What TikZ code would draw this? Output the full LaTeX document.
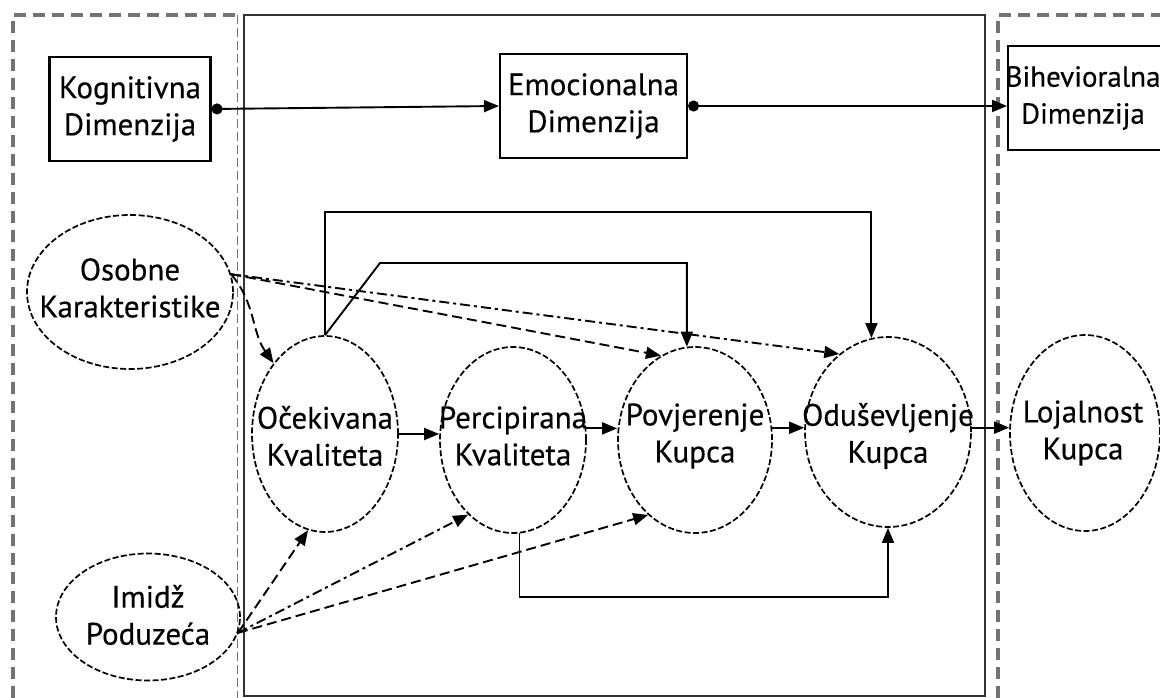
\documentclass[tikz,border=0pt]{standalone}
\usepackage{fontspec}
\setmainfont{PT Sans}
\newfontfamily\lblfont[FakeBold=0.4]{PT Sans}
\usetikzlibrary{arrows.meta,shapes.geometric}
\begin{document}
\begin{tikzpicture}[x=1pt,y=-1pt,
  txt/.style={font=\lblfont\fontsize{31}{37}\selectfont,align=center,text=black,inner sep=0pt},
  box/.style={txt,draw,line width=2.1pt},
  ell/.style={ellipse,draw,line width=1.7pt,dash pattern=on 6pt off 2.5pt,inner sep=0pt},
  arr/.style={-{Triangle[length=15pt,width=12pt]},line width=1.9pt},
  dsh/.style={arr,dash pattern=on 10pt off 5pt},
  dsd/.style={arr,dash pattern=on 10pt off 4pt on 3pt off 4pt},
  dotarr/.style={{Circle[length=11pt]}-{Triangle[length=15pt,width=12pt]},line width=1.9pt},
  region/.style={black!55,line width=3.2pt,dash pattern=on 12pt off 7pt}
]
\fill[white] (0,0) rectangle (1160,698);
\clip (0,0) rectangle (1160,698);
% frames
\draw[region] (13,698) -- (13,15) -- (237,15);
\draw[black!55,line width=1pt,dash pattern=on 9pt off 4pt] (237,15) -- (237,698);
\draw[black!80,line width=1.8pt] (244,15) rectangle (985,696);
\draw[region] (998,698) -- (998,15) -- (1170,15);
% boxes
\node[box,minimum width=161pt,minimum height=104pt] (kog) at (130,109) {Kognitivna\\Dimenzija};
\node[box,minimum width=187pt,minimum height=104pt] (emo) at (593.5,106) {Emocionalna\\Dimenzija};
\node[box,minimum width=175pt,minimum height=104pt,anchor=west] (bih) at (1007,98) {};
\node[txt,font=\lblfont\fontsize{29}{37}\selectfont] (biht) at (1083,98) {Bihevioralna\\Dimenzija};
% ellipses
\node[ell,minimum width=206pt,minimum height=154pt] (osob) at (130,292) {};
\node[ell,minimum width=184pt,minimum height=127pt] (imid) at (148,617) {};
\node[ell,minimum width=146pt,minimum height=196pt] (ocek) at (325,434) {};
\node[ell,minimum width=146pt,minimum height=186pt] (perc) at (513,440) {};
\node[ell,minimum width=154pt,minimum height=186pt] (povj) at (695,440) {};
\node[ell,minimum width=166pt,minimum height=190pt] (odus) at (888,432) {};
\node[ell,minimum width=150pt,minimum height=196pt] (loja) at (1085,433) {};
\node[txt] (osobt) at (130,288) {Osobne\\Karakteristike};
\node[txt] (imidt) at (148,615) {Imidž\\Poduzeća};
\node[txt] (ocekt) at (325,436) {Očekivana\\Kvaliteta};
\node[txt] (perct) at (513,436) {Percipirana\\Kvaliteta};
\node[txt] (povjt) at (695,436) {Povjerenje\\Kupca};
\node[txt] (odust) at (888,436) {Oduševljenje\\Kupca};
\node[txt] (lojat) at (1083,433) {Lojalnost\\Kupca};
% helper coordinates
\coordinate (t1) at (0,212);
\coordinate (t2) at (380,263);
\coordinate (t3) at (0,597);
% top chain
\draw[dotarr] (kog.east) -- (emo.west);
\draw[dotarr] (emo.east) -- (emo.east -| bih.west);
% main chain
\draw[arr] (ocek.east) -- (ocek.east -| perc.west);
\draw[arr] (perc.9) -- (perc.9 -| povj.west);
\draw[arr] (povj.9) -- (povj.9 -| odus.west);
\draw[arr] (odus.3) -- (odus.3 -| loja.west);
% feedback paths
\draw[arr] (ocek.north) -- (ocek.north |- t1) -| (odus.100);
\draw[arr] (ocek.north) -- (t2) -| (povj.95);
\draw[arr,line width=1.5pt] (perc.-86) -- (perc.-86 |- t3) -| (odus.south);
% influences
\draw[dsh] (osob.10) to[out=-50,in=125] (ocek.126);
\draw[dsh] (osob.10) -- (povj.112);
\draw[dsd] (osob.10) -- (odus.122);
\draw[dsh] (imid.-10) -- (ocek.-100);
\draw[dsd] (imid.-10) -- (perc.-121);
\draw[dsh] (imid.-10) -- (povj.-122);
\end{tikzpicture}
\end{document}
